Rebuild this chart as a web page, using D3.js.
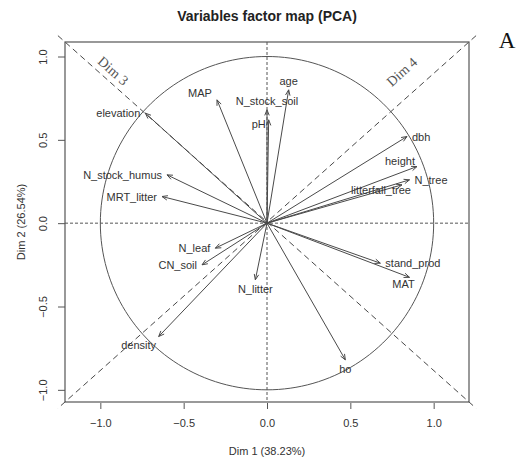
<!DOCTYPE html>
<html>
<head>
<meta charset="utf-8">
<script src="https://cdn.jsdelivr.net/npm/d3@7"></script>
<style>
  html, body { margin: 0; padding: 0; background: #fff; }
  svg { display: block; }
</style>
</head>
<body>
<svg id="chart" width="518" height="461"></svg>
<script>
// ---- data ----
const variables = ["elevation","MAP","N_stock_soil","pH","age","dbh","height","N_tree","litterfall_tree",
  "stand_prod","MAT","ho","density","N_litter","N_leaf","CN_soil","N_stock_humus","MRT_litter"];
const dim1 = [-0.73,-0.30, 0.00, 0.01, 0.13, 0.84, 0.90, 0.855, 0.81, 0.68, 0.855, 0.47,-0.65,-0.07,-0.31,-0.39,-0.60,-0.63];
const dim2 = [ 0.66, 0.74, 0.68, 0.62, 0.80, 0.52, 0.34, 0.26, 0.23,-0.24,-0.325,-0.82,-0.68,-0.34,-0.15,-0.25, 0.29, 0.16];
const xTicks = [-1.0, -0.5, 0.0, 0.5, 1.0];
const yTicks = [-1.0, -0.5, 0.0, 0.5, 1.0];
const title = "Variables factor map (PCA)";
const xTitle = "Dim 1 (38.23%)";
const yTitle = "Dim 2 (26.54%)";
const extraLines = ["Dim 3", "Dim 4"];

// ---- layout ----
const svg = d3.select("#chart");
const box = {left: 65, right: 469, top: 42, bottom: 402};
const x = d3.scaleLinear().domain([-1.212, 1.212]).range([box.left, box.right]);
const y = d3.scaleLinear().domain([-1.073, 1.087]).range([box.bottom, box.top]);

const lineCol = "#4a4a4a", textCol = "#333";
const font = "Liberation Sans, Arial, sans-serif";

// title
svg.append("text").attr("x", 267).attr("y", 21).attr("text-anchor", "middle")
  .attr("font-family", font).attr("font-weight", "bold")
  .attr("font-size", 14).attr("fill", "#222").text(title);

// "A"
svg.append("text").attr("x", 507).attr("y", 48).attr("text-anchor", "middle")
  .attr("font-family", "Liberation Serif, Times New Roman, serif")
  .attr("font-size", 23).attr("fill", "#111").text("A");

// zero lines
svg.append("line").attr("x1", box.left).attr("x2", box.right).attr("y1", y(0)).attr("y2", y(0))
  .attr("stroke", "#555").attr("stroke-dasharray", "3,2").attr("stroke-width", 1);
svg.append("line").attr("y1", box.top).attr("y2", box.bottom).attr("x1", x(0)).attr("x2", x(0))
  .attr("stroke", "#555").attr("stroke-dasharray", "3,2").attr("stroke-width", 1);

// diagonal lines (through origin, corner to corner, slightly extended)
const ext = 1.035;
const xd = x.domain(), yd = y.domain();
[[[xd[0]*ext, yd[1]*ext],[xd[1]*ext, yd[0]*ext]], [[xd[1]*ext, yd[1]*ext],[xd[0]*ext, yd[0]*ext]]].forEach(p => {
  svg.append("line").attr("x1", x(p[0][0])).attr("y1", y(p[0][1])).attr("x2", x(p[1][0])).attr("y2", y(p[1][1]))
    .attr("stroke", "#333").attr("stroke-dasharray", "6,4").attr("stroke-width", 0.9);
});
// Dim 3 / Dim 4 labels
const ang = Math.atan2(box.bottom - box.top, box.right - box.left) * 180 / Math.PI;
svg.append("text").attr("transform", `translate(113,71) rotate(${ang})`).attr("text-anchor", "middle")
  .attr("dominant-baseline", "central").attr("font-family", "Liberation Serif, Times New Roman, serif")
  .attr("font-size", 14).attr("fill", "#555").text(extraLines[0]);
svg.append("text").attr("transform", `translate(402,72) rotate(${-ang})`).attr("text-anchor", "middle")
  .attr("dominant-baseline", "central").attr("font-family", "Liberation Serif, Times New Roman, serif")
  .attr("font-size", 14).attr("fill", "#555").text(extraLines[1]);

// circle
const circ = d3.range(0, 361, 2).map(a => [Math.cos(a*Math.PI/180), Math.sin(a*Math.PI/180)]);
svg.append("path").attr("d", d3.line().x(d => x(d[0])).y(d => y(d[1]))(circ))
  .attr("fill", "none").attr("stroke", "#555").attr("stroke-width", 1);

// box
svg.append("rect").attr("x", box.left).attr("y", box.top)
  .attr("width", box.right - box.left).attr("height", box.bottom - box.top)
  .attr("fill", "none").attr("stroke", "#555").attr("stroke-width", 1.2);

// axes
const xAxis = svg.append("g").attr("transform", `translate(0,${box.bottom + 1})`)
  .call(d3.axisBottom(x).tickValues(xTicks).tickFormat(d3.format(".1f")).tickSize(6).tickPadding(10));
const yAxis = svg.append("g").attr("transform", `translate(${box.left},0)`)
  .call(d3.axisLeft(y).tickValues(yTicks).tickFormat(d3.format(".1f")).tickSize(7).tickPadding(8));
[xAxis, yAxis].forEach(g => {
  g.select(".domain").remove();
  g.selectAll("line").attr("stroke", "#555");
  g.selectAll("text").attr("font-family", font).attr("font-size", 11).attr("fill", textCol);
});
yAxis.selectAll(".tick text").each(function() {
  d3.select(this).attr("text-anchor", "middle").attr("x", null).attr("dy", null)
   .attr("dominant-baseline", "central")
   .attr("transform", "translate(-22,0) rotate(-90)");
});

// axis titles
svg.append("text").attr("x", 267).attr("y", 455).attr("text-anchor", "middle")
  .attr("font-family", font).attr("font-size", 11).attr("fill", textCol).text(xTitle);
svg.append("text").attr("transform", "translate(21,222) rotate(-90)").attr("text-anchor", "middle")
  .attr("dominant-baseline", "central")
  .attr("font-family", font).attr("font-size", 11).attr("fill", textCol).text(yTitle);

// arrows
const data = variables.map((v, i) => ({name: v, x: dim1[i], y: dim2[i]}));
const g = svg.append("g");
const x0 = x(0), y0 = y(0);
data.forEach(d => {
  const tx = x(d.x), ty = y(d.y);
  g.append("line").attr("x1", x0).attr("y1", y0).attr("x2", tx).attr("y2", ty)
    .attr("stroke", lineCol).attr("stroke-width", 1);
  const a = Math.atan2(ty - y0, tx - x0);
  const L = 6, ha = 22 * Math.PI / 180;
  const p1 = [tx - L*Math.cos(a - ha), ty - L*Math.sin(a - ha)];
  const p2 = [tx - L*Math.cos(a + ha), ty - L*Math.sin(a + ha)];
  g.append("path").attr("d", `M${p1[0]},${p1[1]}L${tx},${ty}L${p2[0]},${p2[1]}`)
    .attr("fill", "none").attr("stroke", lineCol).attr("stroke-width", 1);
});

// labels (R text pos rule, with some repositioned labels as in the original autoLab layout)
const moved = {MAP: [-17, -7], pH: [-10, 4], height: [-17, -6], litterfall_tree: [-21, 5], MAT: [-6, 7], density: [-20, 8]};
const off = 5;
data.forEach(d => {
  const tx = x(d.x), ty = y(d.y);
  const t = g.append("text").attr("font-family", font).attr("font-size", 11).attr("fill", textCol)
    .attr("dominant-baseline", "central").text(d.name);
  if (moved[d.name]) {
    t.attr("x", tx + moved[d.name][0]).attr("y", ty + moved[d.name][1]).attr("text-anchor", "middle");
  } else if (Math.abs(d.x) > Math.abs(d.y)) {
    if (d.x >= 0) t.attr("x", tx + off).attr("y", ty).attr("text-anchor", "start");
    else t.attr("x", tx - off).attr("y", ty).attr("text-anchor", "end");
  } else {
    if (d.y >= 0) t.attr("x", tx).attr("y", ty - off - 4).attr("text-anchor", "middle");
    else t.attr("x", tx).attr("y", ty + off + 4).attr("text-anchor", "middle");
  }
});
</script>
</body>
</html>
